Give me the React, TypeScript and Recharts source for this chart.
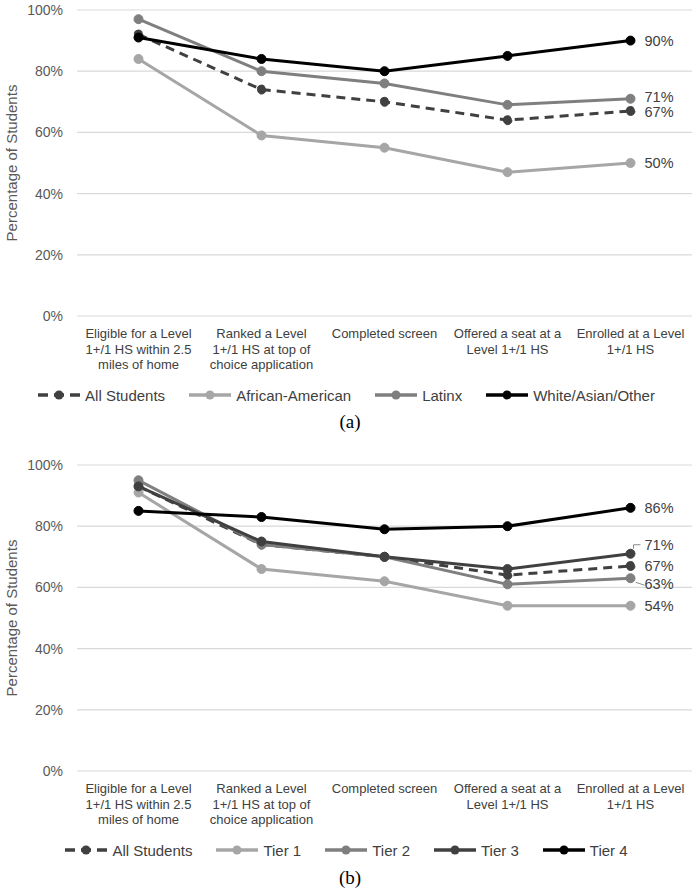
import React from 'react';
import { CartesianGrid, Legend, Line, LineChart, XAxis, YAxis } from 'recharts';

// x-axis tick labels, one array of lines per stage
const stageLines = [
  ['Eligible for a Level', '1+/1 HS within 2.5', 'miles of home'],
  ['Ranked a Level', '1+/1 HS at top of', 'choice application'],
  ['Completed screen'],
  ['Offered a seat at a', 'Level 1+/1 HS'],
  ['Enrolled at a Level', '1+/1 HS'],
];
const stages = stageLines.map((l) => l.join(' '));
const yTicks = [0, 20, 40, 60, 80, 100];

// (a) by race / ethnicity
const allStudentsA = [92, 74, 70, 64, 67];
const africanAmerican = [84, 59, 55, 47, 50];
const latinx = [97, 80, 76, 69, 71];
const whiteAsianOther = [91, 84, 80, 85, 90];

// (b) by tier
const allStudentsB = [93, 74, 70, 64, 67];
const tier1 = [91, 66, 62, 54, 54];
const tier2 = [95, 74, 70, 61, 63];
const tier3 = [93, 75, 70, 66, 71];
const tier4 = [85, 83, 79, 80, 86];

const FONT = "'Liberation Sans', Arial, sans-serif";

type Series = {
  key: string;
  name: string;
  values: number[];
  color: string;
  dashed?: boolean;
  labelDy?: number;
  leader?: boolean;
};

const seriesA: Series[] = [
  { key: 'all', name: 'All Students', values: allStudentsA, color: '#404040', dashed: true, labelDy: 1.5 },
  { key: 'aa', name: 'African-American', values: africanAmerican, color: '#a6a6a6' },
  { key: 'lat', name: 'Latinx', values: latinx, color: '#7f7f7f', labelDy: -1.5 },
  { key: 'wao', name: 'White/Asian/Other', values: whiteAsianOther, color: '#000000' },
];

const seriesB: Series[] = [
  { key: 'all', name: 'All Students', values: allStudentsB, color: '#404040', dashed: true },
  { key: 't1', name: 'Tier 1', values: tier1, color: '#a6a6a6' },
  { key: 't2', name: 'Tier 2', values: tier2, color: '#7f7f7f', labelDy: 6, leader: true },
  { key: 't3', name: 'Tier 3', values: tier3, color: '#404040', labelDy: -9, leader: true },
  { key: 't4', name: 'Tier 4', values: tier4, color: '#000000' },
];

const buildRows = (series: Series[]) =>
  stages.map((stage, i) => {
    const row: Record<string, any> = { stage };
    series.forEach((s) => (row[s.key] = s.values[i]));
    return row;
  });

const StageTick = (props: any) => {
  const { x, y, payload } = props;
  const lines = stageLines[stages.indexOf(payload.value)] || [payload.value];
  return (
    <g transform={`translate(${x},${y})`}>
      <text textAnchor="middle" fontFamily={FONT} fontSize={13} fill="#404040">
        {lines.map((line, i) => (
          <tspan key={i} x={0} dy={i === 0 ? 14 : 15.5}>
            {line}
          </tspan>
        ))}
      </text>
    </g>
  );
};

const endLabel = (s: Series, last: number) => (props: any) => {
  const { x, y, index, value } = props;
  if (index !== last) return null;
  const dy = s.labelDy || 0;
  const ly = y + dy;
  let leader = null;
  if (s.leader && dy < 0) {
    leader = (
      <polyline points={`${x + 3},${y - 5} ${x + 3},${ly} ${x + 10},${ly}`} fill="none" stroke="#8c8c8c" strokeWidth={1} />
    );
  } else if (s.leader && dy > 0) {
    leader = <line x1={x + 5} y1={y + 4} x2={x + 14} y2={ly + 1} stroke="#8c8c8c" strokeWidth={1} />;
  }
  return (
    <g>
      {leader}
      <text x={x + 14} y={ly} dominantBaseline="central" fontFamily={FONT} fontSize={14.5} fill="#404040">
        {value}%
      </text>
    </g>
  );
};

const LegendRow = ({ series }: { series: Series[] }) => (
  <div
    style={{
      height: 30,
      display: 'flex',
      justifyContent: 'center',
      alignItems: 'center',
      gap: 23,
      fontFamily: FONT,
      fontSize: 15,
      color: '#404040',
    }}
  >
    {series.map((s) => (
      <div key={s.key} style={{ display: 'flex', alignItems: 'center' }}>
        <svg width={44} height={12} style={{ marginRight: 4 }}>
          <line
            x1={1}
            y1={6}
            x2={43}
            y2={6}
            stroke={s.color}
            strokeWidth={3.5}
            strokeDasharray={s.dashed ? '10 6' : undefined}
          />
          <circle cx={22} cy={6} r={4.5} fill={s.color} />
        </svg>
        <span>{s.name}</span>
      </div>
    ))}
  </div>
);

const FunnelChart = ({ series }: { series: Series[] }) => {
  const data = buildRows(series);
  const last = data.length - 1;
  return (
    <LineChart width={700} height={410} data={data} margin={{ top: 10, right: 8, bottom: 0, left: 0 }}>
      <CartesianGrid vertical={false} stroke="#d9d9d9" strokeWidth={1.2} />
      <XAxis
        dataKey="stage"
        axisLine={false}
        tickLine={false}
        interval={0}
        height={64}
        padding={{ left: 61.5, right: 61.5 }}
        tick={<StageTick />}
      />
      <YAxis
        domain={[0, 100]}
        ticks={yTicks}
        tickFormatter={(v) => `${v}%`}
        axisLine={false}
        tickLine={false}
        width={77}
        tickMargin={8}
        tick={{ fontSize: 14, fill: '#595959', fontFamily: FONT }}
        label={{
          value: 'Percentage of Students',
          angle: -90,
          position: 'insideLeft',
          offset: 12,
          style: { textAnchor: 'middle', fontSize: 15, fill: '#595959', fontFamily: FONT },
        }}
      />
      <Legend verticalAlign="bottom" height={30} content={() => <LegendRow series={series} />} />
      {series.map((s) => (
        <Line
          key={s.key}
          type="linear"
          dataKey={s.key}
          name={s.name}
          stroke={s.color}
          strokeWidth={3}
          strokeDasharray={s.dashed ? '9 6' : undefined}
          dot={{ r: 4.5, fill: s.color, stroke: s.color, strokeWidth: 1 }}
          isAnimationActive={false}
          label={endLabel(s, last)}
        />
      ))}
    </LineChart>
  );
};

const captionStyle: React.CSSProperties = {
  position: 'absolute',
  left: 0,
  width: 700,
  textAlign: 'center',
  fontFamily: "'Liberation Serif', 'Times New Roman', serif",
  fontSize: 19,
  color: '#000',
};

export default function App() {
  return (
    <div style={{ position: 'absolute', top: 0, left: 0, width: 700, height: 895, background: '#fff' }}>
      <div style={{ position: 'absolute', top: 0, left: 0 }}>
        <FunnelChart series={seriesA} />
      </div>
      <div style={{ ...captionStyle, top: 411 }}>(a)</div>
      <div style={{ position: 'absolute', top: 455, left: 0 }}>
        <FunnelChart series={seriesB} />
      </div>
      <div style={{ ...captionStyle, top: 867 }}>(b)</div>
    </div>
  );
}
